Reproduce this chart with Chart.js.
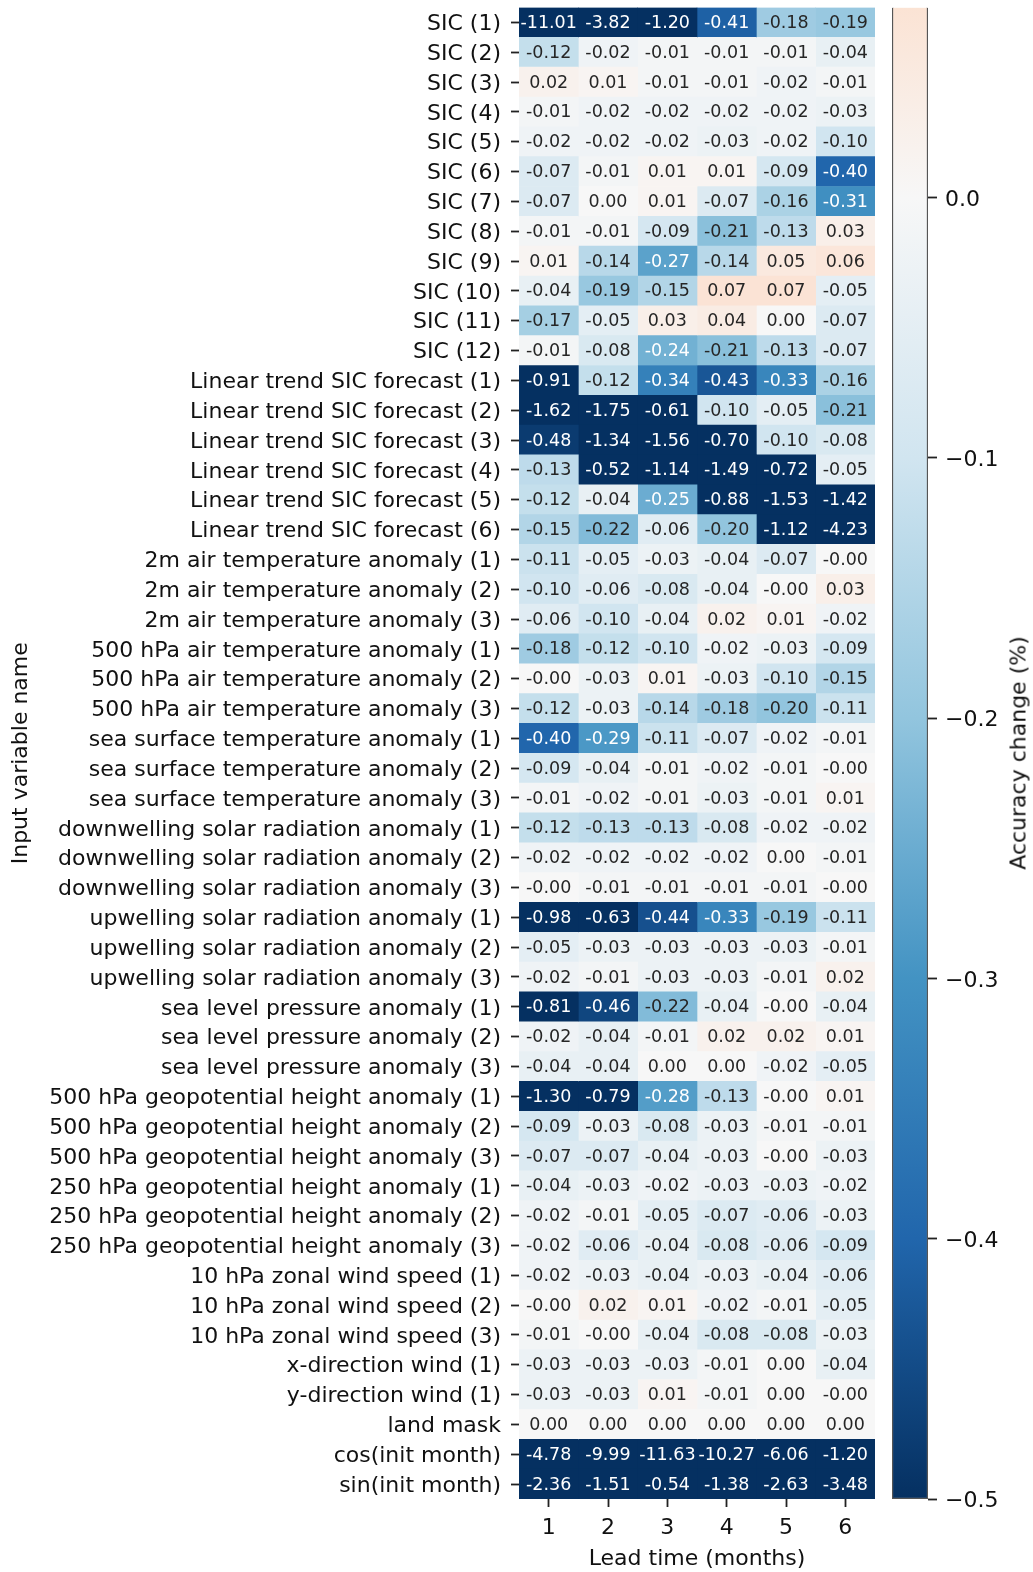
<!DOCTYPE html>
<html>
<head>
<meta charset="utf-8">
<script src="https://cdn.jsdelivr.net/npm/chart.js@4/dist/chart.umd.min.js"></script>
<style>
  body { margin: 0; background: #fff; }
  #wrap { position: relative; width: 1033px; height: 1572px; }
  #heat { position: absolute; left: 0; top: 0; }
  #cbar { position: absolute; left: 880px; top: 0; }
  #cbLabel {
    position: absolute; left: 1018px; top: 753px;
    transform: translate(-50%, -50%) rotate(-90deg);
    font: 22px "DejaVu Sans"; color: #111; white-space: nowrap;
  }
</style>
</head>
<body>
<div id="wrap">
  <canvas id="heat" width="880" height="1572"></canvas>
  <canvas id="cbar" width="153" height="1572"></canvas>
  <div id="cbLabel">Accuracy change (%)</div>
</div>
<script>
const variables = [
  "SIC (1)", "SIC (2)", "SIC (3)", "SIC (4)", "SIC (5)", "SIC (6)",
  "SIC (7)", "SIC (8)", "SIC (9)", "SIC (10)", "SIC (11)", "SIC (12)",
  "Linear trend SIC forecast (1)", "Linear trend SIC forecast (2)", "Linear trend SIC forecast (3)",
  "Linear trend SIC forecast (4)", "Linear trend SIC forecast (5)", "Linear trend SIC forecast (6)",
  "2m air temperature anomaly (1)", "2m air temperature anomaly (2)", "2m air temperature anomaly (3)",
  "500 hPa air temperature anomaly (1)", "500 hPa air temperature anomaly (2)", "500 hPa air temperature anomaly (3)",
  "sea surface temperature anomaly (1)", "sea surface temperature anomaly (2)", "sea surface temperature anomaly (3)",
  "downwelling solar radiation anomaly (1)", "downwelling solar radiation anomaly (2)", "downwelling solar radiation anomaly (3)",
  "upwelling solar radiation anomaly (1)", "upwelling solar radiation anomaly (2)", "upwelling solar radiation anomaly (3)",
  "sea level pressure anomaly (1)", "sea level pressure anomaly (2)", "sea level pressure anomaly (3)",
  "500 hPa geopotential height anomaly (1)", "500 hPa geopotential height anomaly (2)", "500 hPa geopotential height anomaly (3)",
  "250 hPa geopotential height anomaly (1)", "250 hPa geopotential height anomaly (2)", "250 hPa geopotential height anomaly (3)",
  "10 hPa zonal wind speed (1)", "10 hPa zonal wind speed (2)", "10 hPa zonal wind speed (3)",
  "x-direction wind (1)", "y-direction wind (1)", "land mask",
  "cos(init month)", "sin(init month)"
];

const leadTimes = [1, 2, 3, 4, 5, 6];

// accuracy change (%) per lead time, one value per input variable (same order as above)
const lead1 = [
  -11.01, -0.12, 0.02, -0.01, -0.02, -0.07, -0.07, -0.01, 0.01, -0.04, -0.17, -0.01,
  -0.91, -1.62, -0.48, -0.13, -0.12, -0.15,
  -0.11, -0.10, -0.06,  -0.18, -0.00, -0.12,  -0.40, -0.09, -0.01,
  -0.12, -0.02, -0.00,  -0.98, -0.05, -0.02,  -0.81, -0.02, -0.04,
  -1.30, -0.09, -0.07,  -0.04, -0.02, -0.02,  -0.02, -0.00, -0.01,
  -0.03, -0.03, 0.00,  -4.78, -2.36
];
const lead2 = [
  -3.82, -0.02, 0.01, -0.02, -0.02, -0.01, 0.00, -0.01, -0.14, -0.19, -0.05, -0.08,
  -0.12, -1.75, -1.34, -0.52, -0.04, -0.22,
  -0.05, -0.06, -0.10,  -0.12, -0.03, -0.03,  -0.29, -0.04, -0.02,
  -0.13, -0.02, -0.01,  -0.63, -0.03, -0.01,  -0.46, -0.04, -0.04,
  -0.79, -0.03, -0.07,  -0.03, -0.01, -0.06,  -0.03, 0.02, -0.00,
  -0.03, -0.03, 0.00,  -9.99, -1.51
];
const lead3 = [
  -1.20, -0.01, -0.01, -0.02, -0.02, 0.01, 0.01, -0.09, -0.27, -0.15, 0.03, -0.24,
  -0.34, -0.61, -1.56, -1.14, -0.25, -0.06,
  -0.03, -0.08, -0.04,  -0.10, 0.01, -0.14,  -0.11, -0.01, -0.01,
  -0.13, -0.02, -0.01,  -0.44, -0.03, -0.03,  -0.22, -0.01, 0.00,
  -0.28, -0.08, -0.04,  -0.02, -0.05, -0.04,  -0.04, 0.01, -0.04,
  -0.03, 0.01, 0.00,  -11.63, -0.54
];
const lead4 = [
  -0.41, -0.01, -0.01, -0.02, -0.03, 0.01, -0.07, -0.21, -0.14, 0.07, 0.04, -0.21,
  -0.43, -0.10, -0.70, -1.49, -0.88, -0.20,
  -0.04, -0.04, 0.02,  -0.02, -0.03, -0.18,  -0.07, -0.02, -0.03,
  -0.08, -0.02, -0.01,  -0.33, -0.03, -0.03,  -0.04, 0.02, 0.00,
  -0.13, -0.03, -0.03,  -0.03, -0.07, -0.08,  -0.03, -0.02, -0.08,
  -0.01, -0.01, 0.00,  -10.27, -1.38
];
const lead5 = [
  -0.18, -0.01, -0.02, -0.02, -0.02, -0.09, -0.16, -0.13, 0.05, 0.07, 0.00, -0.13,
  -0.33, -0.05, -0.10, -0.72, -1.53, -1.12,
  -0.07, -0.00, 0.01,  -0.03, -0.10, -0.20,  -0.02, -0.01, -0.01,
  -0.02, 0.00, -0.01,  -0.19, -0.03, -0.01,  -0.00, 0.02, -0.02,
  -0.00, -0.01, -0.00,  -0.03, -0.06, -0.06,  -0.04, -0.01, -0.08,
  0.00, 0.00, 0.00,  -6.06, -2.63
];
const lead6 = [
  -0.19, -0.04, -0.01, -0.03, -0.10, -0.40, -0.31, 0.03, 0.06, -0.05, -0.07, -0.07,
  -0.16, -0.21, -0.08, -0.05, -1.42, -4.23,
  -0.00, 0.03, -0.02,  -0.09, -0.15, -0.11,  -0.01, -0.00, 0.01,
  -0.02, -0.01, -0.00,  -0.11, -0.01, 0.02,  -0.04, 0.01, -0.05,
  0.01, -0.01, -0.03,  -0.02, -0.03, -0.09,  -0.06, -0.05, -0.03,
  -0.04, -0.00, 0.00,  -1.20, -3.48
];
const leadValues = [lead1, lead2, lead3, lead4, lead5, lead6];

// colour scale: RdBu_r centred on 0, clipped to [-0.5, cbMax]
const cbMin = -0.5;
const cbMax = 0.0731;
const cbTicks = [-0.5, -0.4, -0.3, -0.2, -0.1, 0.0];

const rdbuStops = ["#053061", "#2166ac", "#4393c3", "#92c5de", "#d1e5f0", "#f7f7f7",
                   "#fddbc7", "#f4a582", "#d6604d", "#b2182b", "#67001f"];

function hexRgb(h) {
  return [parseInt(h.slice(1, 3), 16), parseInt(h.slice(3, 5), 16), parseInt(h.slice(5, 7), 16)];
}
function cmapRgb(v) {
  v = Math.min(Math.max(v, cbMin), cbMax);
  const t = (v + 0.5) * 10;          // -0.5..0.5 -> 0..10
  const i = Math.min(Math.floor(t), 9);
  const f = t - i;
  const a = hexRgb(rdbuStops[i]), b = hexRgb(rdbuStops[i + 1]);
  return a.map((c, k) => Math.round(c + (b[k] - c) * f));
}
function cmap(v) {
  const c = cmapRgb(v);
  return `rgb(${c[0]},${c[1]},${c[2]})`;
}
// same rule as seaborn: dark text on light cells
function textColor(v) {
  const lin = cmapRgb(v).map(c => {
    c /= 255;
    return c <= 0.03928 ? c / 12.92 : Math.pow((c + 0.055) / 1.055, 2.4);
  });
  const lum = 0.2126 * lin[0] + 0.7152 * lin[1] + 0.0722 * lin[2];
  return lum > 0.408 ? "rgb(38,38,38)" : "#fff";
}
function fmt(v) {
  return Object.is(v, -0) ? "-0.00" : v.toFixed(2);
}

const FONT = "DejaVu Sans";

// keep the plot box where it is, no extra room for half tick labels
function noLabelPadding(s) {
  s.paddingTop = 0;
  s.paddingBottom = 0;
}

const cellLabels = {
  id: "cellLabels",
  afterDatasetsDraw(chart) {
    const c = chart.ctx;
    c.save();
    c.font = `17.5px "${FONT}"`;
    c.textAlign = "center";
    c.textBaseline = "middle";
    chart.data.datasets.forEach((ds, di) => {
      chart.getDatasetMeta(di).data.forEach((bar, i) => {
        const p = bar.getCenterPoint();
        c.fillStyle = textColor(ds.values[i]);
        c.fillText(fmt(ds.values[i]), p.x, p.y + 1);
      });
    });
    c.restore();
  }
};

new Chart(document.getElementById("heat"), {
  type: "bar",
  data: {
    labels: variables,
    datasets: leadTimes.map((lt, k) => ({
      label: "Lead " + lt,
      values: leadValues[k],
      data: variables.map(() => [lt - 0.5, lt + 0.5]),
      backgroundColor: leadValues[k].map(cmap),
      borderWidth: 0,
      grouped: false,
      barPercentage: 1,
      categoryPercentage: 1
    }))
  },
  options: {
    indexAxis: "y",
    responsive: false,
    animation: false,
    devicePixelRatio: 1,
    layout: { padding: { top: 7.5, right: 5, bottom: 0, left: 0 } },
    plugins: { legend: { display: false }, tooltip: { enabled: false } },
    scales: {
      x: {
        type: "linear",
        min: 0.5,
        max: 6.5,
        afterBuildTicks: s => { s.ticks = leadTimes.map(v => ({ value: v })); },
        afterFit: s => { s.height = 73; },
        border: { display: false },
        grid: { drawOnChartArea: false, tickLength: 8, tickWidth: 1.8, tickColor: "#222" },
        ticks: { color: "#111", padding: 8, font: { family: FONT, size: 22 } },
        title: {
          display: true, text: "Lead time (months)", color: "#111",
          font: { family: FONT, size: 22 }, padding: { top: 0, bottom: 0 }
        }
      },
      y: {
        afterFit: s => { s.width = 519; noLabelPadding(s); },
        border: { display: false },
        grid: { offset: false, drawOnChartArea: false, tickLength: 8, tickWidth: 1.8, tickColor: "#222" },
        ticks: { color: "#111", padding: 10, labelOffset: 2, autoSkip: false, font: { family: FONT, size: 22 } },
        title: {
          display: true, text: "Input variable name", color: "#111",
          font: { family: FONT, size: 22 }, padding: { top: 8, bottom: 0 }
        }
      }
    }
  },
  plugins: [cellLabels]
});

new Chart(document.getElementById("cbar"), {
  type: "bar",
  data: {
    labels: ["colorbar"],
    datasets: [{
      data: [[cbMin, cbMax]],
      backgroundColor: ctx => {
        const chart = ctx.chart;
        if (!chart.chartArea) return "#ccc";
        const ys = chart.scales.y;
        const g = chart.ctx.createLinearGradient(0, ys.getPixelForValue(cbMin), 0, ys.getPixelForValue(cbMax));
        const stops = [-0.5, -0.4, -0.3, -0.2, -0.1, 0.0, cbMax];
        stops.forEach(v => g.addColorStop((v - cbMin) / (cbMax - cbMin), cmap(v)));
        return g;
      },
      borderColor: "#555",
      borderWidth: 1.5,
      barPercentage: 1,
      categoryPercentage: 1
    }]
  },
  options: {
    responsive: false,
    animation: false,
    devicePixelRatio: 1,
    layout: { padding: { top: 7.5, right: 0, bottom: 73, left: 12 } },
    plugins: { legend: { display: false }, tooltip: { enabled: false } },
    scales: {
      x: { display: false },
      y: {
        position: "right",
        min: cbMin,
        max: cbMax,
        afterBuildTicks: s => { s.ticks = cbTicks.map(v => ({ value: v })); },
        afterFit: s => { s.width = 105; noLabelPadding(s); },
        border: { display: false },
        grid: { drawOnChartArea: false, tickLength: 9, tickWidth: 1.8, tickColor: "#222" },
        ticks: {
          color: "#111", padding: 8, labelOffset: 2.5, font: { family: FONT, size: 22 },
          callback: v => v.toFixed(1).replace("-", "\u2212")
        }
      }
    }
  }
});
</script>
</body>
</html>
